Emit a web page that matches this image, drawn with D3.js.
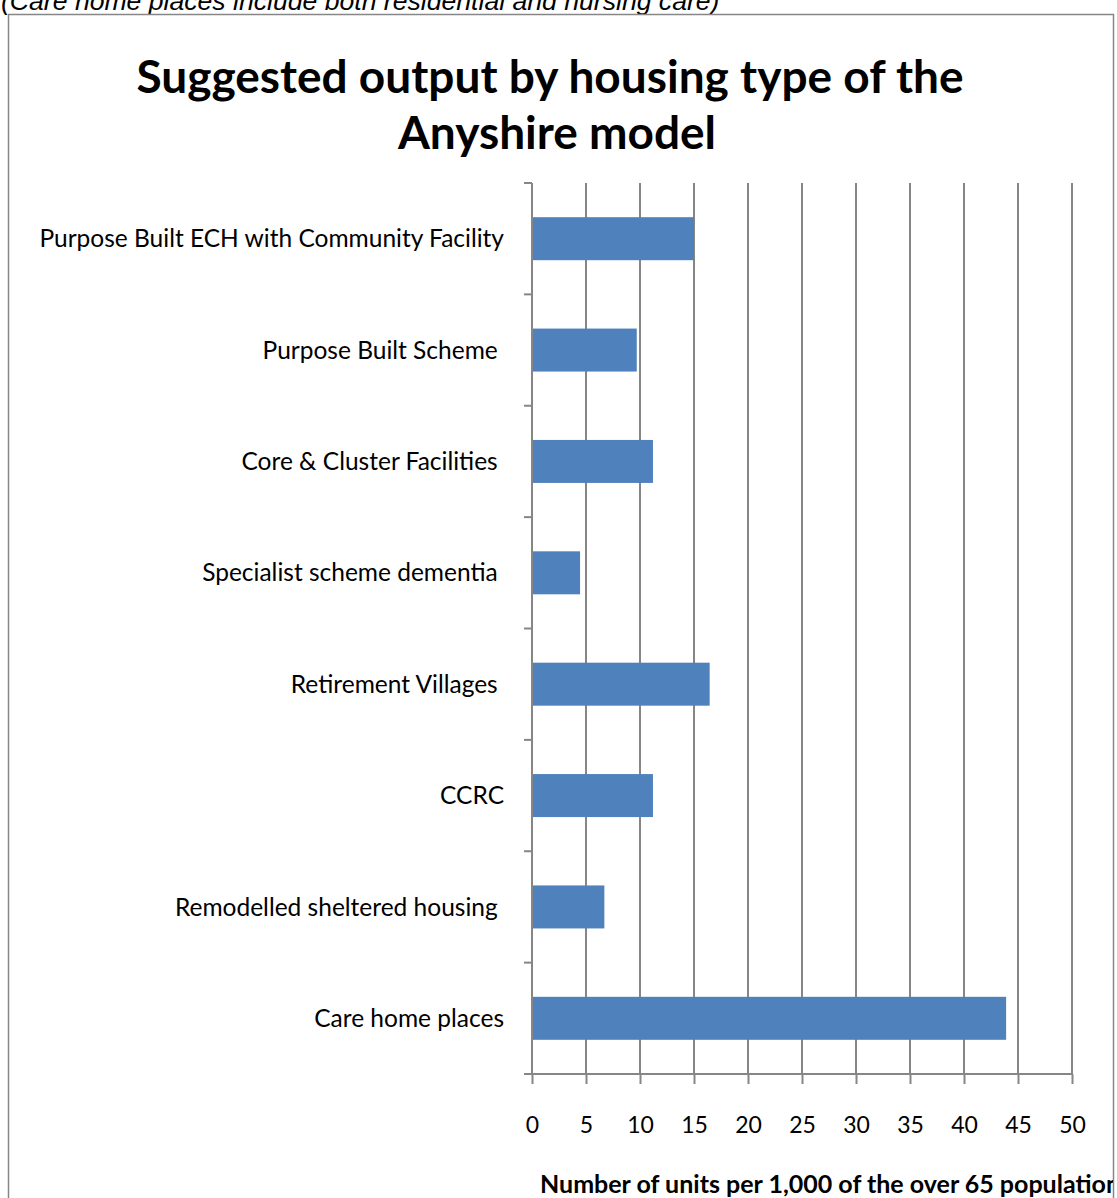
<!DOCTYPE html>
<html lang="en">
<head>
<meta charset="UTF-8">
<title>Suggested output by housing type</title>
<style>
  body { margin: 0; background: #fff; }
  svg { display: block; }
</style>
</head>
<body>
<script src="https://cdn.jsdelivr.net/npm/d3@7/dist/d3.min.js"></script>
<script>
// data (top to bottom)
var categories = [
  "Purpose Built ECH with Community Facility",
  "Purpose Built Scheme ",
  "Core & Cluster Facilities ",
  "Specialist scheme dementia ",
  "Retirement Villages ",
  "CCRC",
  "Remodelled sheltered housing ",
  "Care home places"
];
var values = [15.0, 9.7, 11.2, 4.45, 16.45, 11.2, 6.7, 43.9];
var xTicks = [0, 5, 10, 15, 20, 25, 30, 35, 40, 45, 50];

var W = 1117, H = 1198;
var plot = { left: 532, right: 1072, top: 183, bottom: 1074 };
var gridColor = "#868686";
var labelFont = "Lato, 'Open Sans', sans-serif";

var svg = d3.select("body").append("svg").attr("width", W).attr("height", H);

// note above the chart, cut off at the top
svg.append("text")
  .attr("x", 1).attr("y", 10)
  .attr("font-family", "'Liberation Sans', Arial, sans-serif")
  .attr("font-style", "italic")
  .attr("font-size", 26.6)
  .text("(Care home places include both residential and nursing care)");

// chart frame
svg.append("clipPath").attr("id", "frame")
  .append("rect").attr("x", 8).attr("y", 14).attr("width", 1105).attr("height", 1184);
svg.append("rect")
  .attr("x", 8.5).attr("y", 14.5).attr("width", 1105).attr("height", 1190)
  .attr("fill", "#fff").attr("stroke", gridColor).attr("stroke-width", 1.5);

var g = svg.append("g").attr("clip-path", "url(#frame)");

// title
var title = g.append("text")
  .attr("text-anchor", "middle")
  .attr("font-family", labelFont)
  .attr("font-weight", "bold")
  .attr("font-size", 46);
title.append("tspan").attr("x", 550).attr("y", 93).text("Suggested output by housing type of the");
title.append("tspan").attr("x", 557).attr("y", 149).text("Anyshire model");

var x = d3.scaleLinear().domain([0, 50]).range([plot.left, plot.right]);
var y = d3.scaleBand().domain(categories)
  .range([plot.top, plot.bottom])
  .paddingInner(0.614).paddingOuter(0.307);

// vertical gridlines
g.selectAll(".grid").data(xTicks.slice(1)).enter().append("line")
  .attr("class", "grid")
  .attr("x1", function (d) { return x(d); }).attr("x2", function (d) { return x(d); })
  .attr("y1", plot.top).attr("y2", plot.bottom)
  .attr("stroke", gridColor).attr("stroke-width", 2);

// bars
g.selectAll(".bar").data(values).enter().append("rect")
  .attr("class", "bar")
  .attr("x", x(0))
  .attr("y", function (d, i) { return y(categories[i]); })
  .attr("width", function (d) { return x(d) - x(0); })
  .attr("height", y.bandwidth())
  .attr("fill", "#4f81bd");

// y axis: line + category separator ticks
var step = y.step();
var sepY = d3.range(categories.length + 1).map(function (i) { return plot.top + i * step; });
g.append("line")
  .attr("x1", plot.left).attr("x2", plot.left)
  .attr("y1", plot.top).attr("y2", plot.bottom)
  .attr("stroke", gridColor).attr("stroke-width", 2);
g.selectAll(".ytick").data(sepY).enter().append("line")
  .attr("x1", plot.left - 8).attr("x2", plot.left)
  .attr("y1", function (d) { return d; }).attr("y2", function (d) { return d; })
  .attr("stroke", gridColor).attr("stroke-width", 2);

g.selectAll(".ylab").data(categories).enter().append("text")
  .attr("x", 504)
  .attr("y", function (d) { return y(d) + y.bandwidth() / 2; })
  .attr("dy", "0.35em")
  .attr("text-anchor", "end")
  .style("white-space", "pre")
  .attr("font-family", labelFont)
  .attr("font-size", 24.5)
  .attr("fill", "#000")
  .text(function (d) { return d; });

// x axis
var xAxis = d3.axisBottom(x).tickValues(xTicks).tickSize(10).tickSizeOuter(0).tickPadding(33);
var ax = g.append("g").attr("transform", "translate(0," + plot.bottom + ")").call(xAxis);
ax.select(".domain").remove();
ax.selectAll(".tick line").attr("stroke", gridColor).attr("stroke-width", 2);
ax.selectAll(".tick text")
  .attr("font-family", labelFont).attr("font-size", 23).attr("fill", "#000");
g.append("line")
  .attr("x1", plot.left - 8).attr("x2", plot.right)
  .attr("y1", plot.bottom).attr("y2", plot.bottom)
  .attr("stroke", gridColor).attr("stroke-width", 2);

// axis title (runs past the frame and is clipped)
g.append("text")
  .attr("x", 540).attr("y", 1193)
  .attr("font-family", labelFont)
  .attr("font-weight", "bold")
  .attr("font-size", 25)
  .text("Number of units per 1,000 of the over 65 population");
</script>
</body>
</html>
